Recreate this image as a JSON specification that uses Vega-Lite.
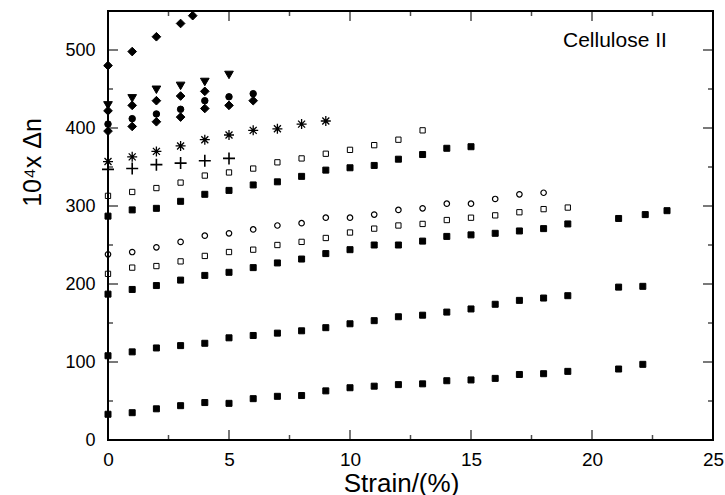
{
  "$schema": "https://vega.github.io/schema/vega-lite/v6.json",
  "width": 605,
  "height": 429,
  "autosize": "none",
  "padding": {"left": 108, "top": 11, "right": 12, "bottom": 55},
  "background": "white",
  "config": {
    "view": {"stroke": null},
    "font": "Liberation Sans",
    "axis": {"grid": false, "domain": false, "ticks": false, "labelColor": "black", "titleColor": "black", "labelFont": "Liberation Sans", "titleFont": "Liberation Sans", "titleFontWeight": "normal", "labelFlush": false, "labelOverlap": false}
  },
  "datasets": {
    "xt": [{"v":0,"k":"major"},{"v":2.5,"k":"minor"},{"v":5,"k":"major"},{"v":7.5,"k":"minor"},{"v":10,"k":"major"},{"v":12.5,"k":"minor"},{"v":15,"k":"major"},{"v":17.5,"k":"minor"},{"v":20,"k":"major"},{"v":22.5,"k":"minor"},{"v":25,"k":"major"}],
    "yt": [{"v":0,"k":"major"},{"v":50,"k":"minor"},{"v":100,"k":"major"},{"v":150,"k":"minor"},{"v":200,"k":"major"},{"v":250,"k":"minor"},{"v":300,"k":"major"},{"v":350,"k":"minor"},{"v":400,"k":"major"},{"v":450,"k":"minor"},{"v":500,"k":"major"}]
  },
  "layer": [
    {
      "data": {"values": [
        {"s":"A","m":"fs","x":0,"y":33},{"s":"A","m":"fs","x":1,"y":35},{"s":"A","m":"fs","x":2,"y":40},{"s":"A","m":"fs","x":3,"y":44},{"s":"A","m":"fs","x":4,"y":48},{"s":"A","m":"fs","x":5,"y":47},{"s":"A","m":"fs","x":6,"y":53},{"s":"A","m":"fs","x":7,"y":56},{"s":"A","m":"fs","x":8,"y":57},{"s":"A","m":"fs","x":9,"y":63},{"s":"A","m":"fs","x":10,"y":67},{"s":"A","m":"fs","x":11,"y":69},{"s":"A","m":"fs","x":12,"y":71},{"s":"A","m":"fs","x":13,"y":72},{"s":"A","m":"fs","x":14,"y":76},{"s":"A","m":"fs","x":15,"y":77},{"s":"A","m":"fs","x":16,"y":79},{"s":"A","m":"fs","x":17,"y":84},{"s":"A","m":"fs","x":18,"y":85},{"s":"A","m":"fs","x":19,"y":88},{"s":"A","m":"fs","x":21.1,"y":91},{"s":"A","m":"fs","x":22.1,"y":97},
        {"s":"B","m":"fs","x":0,"y":108},{"s":"B","m":"fs","x":1,"y":113},{"s":"B","m":"fs","x":2,"y":118},{"s":"B","m":"fs","x":3,"y":121},{"s":"B","m":"fs","x":4,"y":124},{"s":"B","m":"fs","x":5,"y":131},{"s":"B","m":"fs","x":6,"y":134},{"s":"B","m":"fs","x":7,"y":137},{"s":"B","m":"fs","x":8,"y":140},{"s":"B","m":"fs","x":9,"y":144},{"s":"B","m":"fs","x":10,"y":149},{"s":"B","m":"fs","x":11,"y":153},{"s":"B","m":"fs","x":12,"y":158},{"s":"B","m":"fs","x":13,"y":160},{"s":"B","m":"fs","x":14,"y":164},{"s":"B","m":"fs","x":15,"y":168},{"s":"B","m":"fs","x":16,"y":174},{"s":"B","m":"fs","x":17,"y":179},{"s":"B","m":"fs","x":18,"y":182},{"s":"B","m":"fs","x":19,"y":185},{"s":"B","m":"fs","x":21.1,"y":196},{"s":"B","m":"fs","x":22.1,"y":197},
        {"s":"C","m":"fs","x":0,"y":187},{"s":"C","m":"fs","x":1,"y":193},{"s":"C","m":"fs","x":2,"y":198},{"s":"C","m":"fs","x":3,"y":205},{"s":"C","m":"fs","x":4,"y":211},{"s":"C","m":"fs","x":5,"y":215},{"s":"C","m":"fs","x":6,"y":221},{"s":"C","m":"fs","x":7,"y":227},{"s":"C","m":"fs","x":8,"y":232},{"s":"C","m":"fs","x":9,"y":239},{"s":"C","m":"fs","x":10,"y":244},{"s":"C","m":"fs","x":11,"y":250},{"s":"C","m":"fs","x":12,"y":250},{"s":"C","m":"fs","x":13,"y":255},{"s":"C","m":"fs","x":14,"y":261},{"s":"C","m":"fs","x":15,"y":263},{"s":"C","m":"fs","x":16,"y":265},{"s":"C","m":"fs","x":17,"y":268},{"s":"C","m":"fs","x":18,"y":271},{"s":"C","m":"fs","x":19,"y":277},{"s":"C","m":"fs","x":21.1,"y":284},{"s":"C","m":"fs","x":22.2,"y":289},{"s":"C","m":"fs","x":23.1,"y":294},
        {"s":"D","m":"os","x":0,"y":213},{"s":"D","m":"os","x":1,"y":221},{"s":"D","m":"os","x":2,"y":223},{"s":"D","m":"os","x":3,"y":229},{"s":"D","m":"os","x":4,"y":236},{"s":"D","m":"os","x":5,"y":241},{"s":"D","m":"os","x":6,"y":244},{"s":"D","m":"os","x":7,"y":250},{"s":"D","m":"os","x":8,"y":254},{"s":"D","m":"os","x":9,"y":259},{"s":"D","m":"os","x":10,"y":266},{"s":"D","m":"os","x":11,"y":271},{"s":"D","m":"os","x":12,"y":275},{"s":"D","m":"os","x":13,"y":277},{"s":"D","m":"os","x":14,"y":282},{"s":"D","m":"os","x":15,"y":285},{"s":"D","m":"os","x":16,"y":288},{"s":"D","m":"os","x":17,"y":292},{"s":"D","m":"os","x":18,"y":296},{"s":"D","m":"os","x":19,"y":298},
        {"s":"E","m":"oc","x":0,"y":238},{"s":"E","m":"oc","x":1,"y":241},{"s":"E","m":"oc","x":2,"y":247},{"s":"E","m":"oc","x":3,"y":254},{"s":"E","m":"oc","x":4,"y":262},{"s":"E","m":"oc","x":5,"y":265},{"s":"E","m":"oc","x":6,"y":270},{"s":"E","m":"oc","x":7,"y":275},{"s":"E","m":"oc","x":8,"y":278},{"s":"E","m":"oc","x":9,"y":285},{"s":"E","m":"oc","x":10,"y":285},{"s":"E","m":"oc","x":11,"y":289},{"s":"E","m":"oc","x":12,"y":295},{"s":"E","m":"oc","x":13,"y":297},{"s":"E","m":"oc","x":14,"y":303},{"s":"E","m":"oc","x":15,"y":303},{"s":"E","m":"oc","x":16,"y":309},{"s":"E","m":"oc","x":17,"y":315},{"s":"E","m":"oc","x":18,"y":317},
        {"s":"F","m":"fs","x":0,"y":287},{"s":"F","m":"fs","x":1,"y":295},{"s":"F","m":"fs","x":2,"y":297},{"s":"F","m":"fs","x":3,"y":306},{"s":"F","m":"fs","x":4,"y":315},{"s":"F","m":"fs","x":5,"y":320},{"s":"F","m":"fs","x":6,"y":327},{"s":"F","m":"fs","x":7,"y":331},{"s":"F","m":"fs","x":8,"y":338},{"s":"F","m":"fs","x":9,"y":346},{"s":"F","m":"fs","x":10,"y":349},{"s":"F","m":"fs","x":11,"y":352},{"s":"F","m":"fs","x":12,"y":360},{"s":"F","m":"fs","x":13,"y":366},{"s":"F","m":"fs","x":14,"y":374},{"s":"F","m":"fs","x":15,"y":376},
        {"s":"G","m":"os","x":0,"y":313},{"s":"G","m":"os","x":1,"y":318},{"s":"G","m":"os","x":2,"y":323},{"s":"G","m":"os","x":3,"y":330},{"s":"G","m":"os","x":4,"y":339},{"s":"G","m":"os","x":5,"y":343},{"s":"G","m":"os","x":6,"y":348},{"s":"G","m":"os","x":7,"y":356},{"s":"G","m":"os","x":8,"y":361},{"s":"G","m":"os","x":9,"y":367},{"s":"G","m":"os","x":10,"y":372},{"s":"G","m":"os","x":11,"y":378},{"s":"G","m":"os","x":12,"y":385},{"s":"G","m":"os","x":13,"y":397},
        {"s":"H","m":"pl","x":0,"y":347},{"s":"H","m":"pl","x":1,"y":348},{"s":"H","m":"pl","x":2,"y":353},{"s":"H","m":"pl","x":3,"y":355},{"s":"H","m":"pl","x":4,"y":358},{"s":"H","m":"pl","x":5,"y":361},
        {"s":"I","m":"as","x":0,"y":357},{"s":"I","m":"as","x":1,"y":363},{"s":"I","m":"as","x":2,"y":370},{"s":"I","m":"as","x":3,"y":377},{"s":"I","m":"as","x":4,"y":385},{"s":"I","m":"as","x":5,"y":391},{"s":"I","m":"as","x":6,"y":397},{"s":"I","m":"as","x":7,"y":399},{"s":"I","m":"as","x":8,"y":405},{"s":"I","m":"as","x":9,"y":409},
        {"s":"J","m":"fc","x":0,"y":405},{"s":"J","m":"fc","x":1,"y":412},{"s":"J","m":"fc","x":2,"y":418},{"s":"J","m":"fc","x":3,"y":424},{"s":"J","m":"fc","x":4,"y":435},{"s":"J","m":"fc","x":5,"y":440},{"s":"J","m":"fc","x":6,"y":444},
        {"s":"K","m":"dm","x":0,"y":396},{"s":"K","m":"dm","x":1,"y":402},{"s":"K","m":"dm","x":2,"y":408},{"s":"K","m":"dm","x":3,"y":414},{"s":"K","m":"dm","x":4,"y":425},{"s":"K","m":"dm","x":5,"y":429},{"s":"K","m":"dm","x":6,"y":435},
        {"s":"L","m":"dm","x":0,"y":422},{"s":"L","m":"dm","x":1,"y":429},{"s":"L","m":"dm","x":2,"y":435},{"s":"L","m":"dm","x":3,"y":441},{"s":"L","m":"dm","x":4,"y":447},
        {"s":"M","m":"td","x":0,"y":429},{"s":"M","m":"td","x":1,"y":438},{"s":"M","m":"td","x":2,"y":449},{"s":"M","m":"td","x":3,"y":454},{"s":"M","m":"td","x":4,"y":459},{"s":"M","m":"td","x":5,"y":468},
        {"s":"N","m":"dm","x":0,"y":480},{"s":"N","m":"dm","x":1,"y":498},{"s":"N","m":"dm","x":2,"y":517},{"s":"N","m":"dm","x":3,"y":534},{"s":"N","m":"dm","x":3.5,"y":544}
      ]},
      "mark": {"type": "point", "stroke": "black", "strokeWidth": 1.1, "opacity": 1, "clip": false},
      "encoding": {
        "x": {"field": "x", "type": "quantitative", "scale": {"domain": [0, 25], "nice": false, "zero": false},
          "axis": {"orient": "bottom", "values": [0,5,10,15,20,25],
            "labelFontSize": 19, "labelPadding": 10,
            "title": "Strain/(%)", "titleFontSize": 26, "titleX": 293, "titleY": 51, "titleAlign": "center", "titleBaseline": "alphabetic"}},
        "y": {"field": "y", "type": "quantitative", "scale": {"domain": [0, 550], "nice": false, "zero": false},
          "axis": {"orient": "left", "values": [0,100,200,300,400,500],
            "labelFontSize": 18, "labelPadding": 13,
            "title": "10⁴x Δn", "titleFontSize": 25, "titleX": -68, "titleY": 151, "titleAngle": 270, "titleAlign": "center", "titleBaseline": "alphabetic"}},
        "shape": {"field": "m", "type": "nominal", "legend": null,
          "scale": {"domain": ["fs","os","oc","fc","dm","td","pl","as"],
            "range": ["square","square","circle","circle","diamond","triangle-down","M-1,0H1M0,-1V1","M0,-1V1M-1,0H1M-0.7,-0.7L0.7,0.7M-0.7,0.7L0.7,-0.7"]}},
        "fill": {"field": "m", "type": "nominal", "legend": null,
          "scale": {"domain": ["fs","os","oc","fc","dm","td","pl","as"],
            "range": ["black","white","white","black","black","black","transparent","transparent"]}},
        "size": {"field": "m", "type": "nominal", "legend": null,
          "scale": {"type": "ordinal", "domain": ["fs","os","oc","fc","dm","td","pl","as"],
            "range": [36,28,30,42,75,75,144,100]}},
        "strokeWidth": {"field": "m", "type": "nominal", "legend": null,
          "scale": {"type": "ordinal", "domain": ["fs","os","oc","fc","dm","td","pl","as"],
            "range": [1,1,1.2,1,1,1,1.6,1.3]}}
      }
    },
    {
      "data": {"values": [{"label": "Cellulose II", "x": 18.8, "y": 504}]},
      "mark": {"type": "text", "align": "left", "baseline": "alphabetic", "fontSize": 21, "font": "Liberation Sans", "color": "black"},
      "encoding": {
        "text": {"field": "label"},
        "x": {"field": "x", "type": "quantitative"},
        "y": {"field": "y", "type": "quantitative"}
      }
    },
    {
      "data": {"values": [{}]},
      "mark": {"type": "rect", "filled": false, "stroke": "black", "strokeWidth": 2, "clip": false},
      "encoding": {
        "x": {"datum": 0, "type": "quantitative"},
        "x2": {"datum": 25},
        "y": {"datum": 0, "type": "quantitative"},
        "y2": {"datum": 550}
      }
    },
    {
      "data": {"name": "xt"}, "transform": [{"filter": "datum.k === 'major'"}],
      "mark": {"type": "tick", "orient": "vertical", "color": "black", "thickness": 1.5, "size": 10, "yOffset": -5},
      "encoding": {"x": {"field": "v", "type": "quantitative"}, "y": {"datum": 0, "type": "quantitative"}}
    },
    {
      "data": {"name": "xt"}, "transform": [{"filter": "datum.k === 'minor'"}],
      "mark": {"type": "tick", "orient": "vertical", "color": "black", "thickness": 1.5, "size": 5, "yOffset": -2.5},
      "encoding": {"x": {"field": "v", "type": "quantitative"}, "y": {"datum": 0, "type": "quantitative"}}
    },
    {
      "data": {"name": "xt"}, "transform": [{"filter": "datum.k === 'major'"}],
      "mark": {"type": "tick", "orient": "vertical", "color": "black", "thickness": 1.5, "size": 10, "yOffset": 5},
      "encoding": {"x": {"field": "v", "type": "quantitative"}, "y": {"datum": 550, "type": "quantitative"}}
    },
    {
      "data": {"name": "xt"}, "transform": [{"filter": "datum.k === 'minor'"}],
      "mark": {"type": "tick", "orient": "vertical", "color": "black", "thickness": 1.5, "size": 5, "yOffset": 2.5},
      "encoding": {"x": {"field": "v", "type": "quantitative"}, "y": {"datum": 550, "type": "quantitative"}}
    },
    {
      "data": {"name": "yt"}, "transform": [{"filter": "datum.k === 'major'"}],
      "mark": {"type": "tick", "orient": "horizontal", "color": "black", "thickness": 1.5, "size": 10, "xOffset": 5},
      "encoding": {"y": {"field": "v", "type": "quantitative"}, "x": {"datum": 0, "type": "quantitative"}}
    },
    {
      "data": {"name": "yt"}, "transform": [{"filter": "datum.k === 'minor'"}],
      "mark": {"type": "tick", "orient": "horizontal", "color": "black", "thickness": 1.5, "size": 5, "xOffset": 2.5},
      "encoding": {"y": {"field": "v", "type": "quantitative"}, "x": {"datum": 0, "type": "quantitative"}}
    },
    {
      "data": {"name": "yt"}, "transform": [{"filter": "datum.k === 'major'"}],
      "mark": {"type": "tick", "orient": "horizontal", "color": "black", "thickness": 1.5, "size": 10, "xOffset": -5},
      "encoding": {"y": {"field": "v", "type": "quantitative"}, "x": {"datum": 25, "type": "quantitative"}}
    },
    {
      "data": {"name": "yt"}, "transform": [{"filter": "datum.k === 'minor'"}],
      "mark": {"type": "tick", "orient": "horizontal", "color": "black", "thickness": 1.5, "size": 5, "xOffset": -2.5},
      "encoding": {"y": {"field": "v", "type": "quantitative"}, "x": {"datum": 25, "type": "quantitative"}}
    }
  ]
}
